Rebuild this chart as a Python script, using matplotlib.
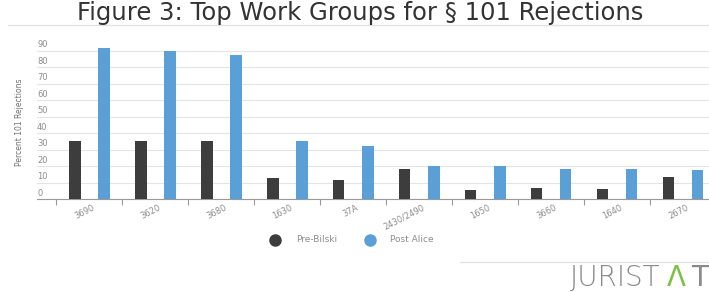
import numpy as np
import matplotlib
matplotlib.use("Agg")
import matplotlib.pyplot as plt
from matplotlib.lines import Line2D

# data
groups = ["3690", "3620", "3680", "1630", "37A", "2430/2490", "1650", "3660", "1640", "2670"]
pre_bilski = [35.3, 35.0, 35.3, 12.7, 11.6, 18.0, 5.5, 6.5, 5.9, 13.2]
post_alice = [91.8, 89.5, 87.5, 35.3, 32.1, 20.0, 20.0, 18.0, 18.0, 17.7]
y_ticks = [0, 10, 20, 30, 40, 50, 60, 70, 80, 90]
series_names = ["Pre-Bilski", "Post Alice"]

dark = "#3d3d3d"
blue = "#5a9fd6"
grey_txt = "#8c8c8c"
grid_col = "#e4e4e4"

W, H = 709, 292
fig = plt.figure(figsize=(W / 100, H / 100), dpi=100)
fig.patch.set_facecolor("white")

# axes placed in pixel terms (right edge runs past the image like the original crop)
left_px, right_px, bottom_px, top_px = 37, 716, 199, 42.25
ax = fig.add_axes([left_px / W, 1 - bottom_px / H,
                   (right_px - left_px) / W, (bottom_px - top_px) / H])

x = np.arange(len(groups))
bw = 0.18
ax.bar(x - 0.22, pre_bilski, bw, color=dark, zorder=3)
ax.bar(x + 0.22, post_alice, bw, color=blue, zorder=3)

ax.set_xlim(-0.79, 9.5)
ax.set_ylim(0, 95)

for s in ["top", "right", "left"]:
    ax.spines[s].set_visible(False)
ax.spines["bottom"].set_color("#9a9a9a")
ax.spines["bottom"].set_linewidth(0.8)

# gridlines + labels sitting just above each line
ax.set_yticks(y_ticks)
ax.set_yticklabels([])
ax.tick_params(axis="y", length=0)
ax.grid(axis="y", color=grid_col, linewidth=0.8, zorder=0)
for v in y_ticks:
    ax.annotate(str(v), xy=(0, v), xycoords=ax.get_yaxis_transform(),
                xytext=(0, 1), textcoords="offset points",
                ha="left", va="bottom", fontsize=6, color=grey_txt)

# tick marks on category boundaries, labels at centers
ax.set_xticks(np.arange(len(groups) + 1) - 0.5)
ax.set_xticklabels([])
ax.tick_params(axis="x", length=4, width=0.8, color="#9a9a9a", direction="out")
for i, g in enumerate(groups):
    ax.annotate(g, xy=(i, 0), xycoords=ax.get_xaxis_transform(),
                xytext=(5, -3), textcoords="offset points",
                ha="right", va="top", rotation=27, fontsize=6, color=grey_txt)

fig.text(20 / W, 1 - 122 / H, "Percent 101 Rejections", rotation=90,
         ha="center", va="center", fontsize=5.5, color="#707070",
         family=["Liberation Sans Narrow", "DejaVu Sans"])

# title and separator rule
fig.text(360 / W, 1 - 13 / H, "Figure 3: Top Work Groups for § 101 Rejections",
         ha="center", va="center", fontsize=17.5, color="#333333")
fig.add_artist(Line2D([8 / W, 1], [1 - 25 / H, 1 - 25 / H], color="#e2e2e2", lw=1))

# legend, laid out by hand
ly = 1 - 240 / H
for px, tx, col, name in [(275, 296, dark, series_names[0]), (370, 390, blue, series_names[1])]:
    fig.add_artist(Line2D([px / W], [ly], marker="o", ls="", color=col, markersize=8))
    fig.text(tx / W, ly, name, ha="left", va="center", fontsize=6.5, color=grey_txt)

# logo
fig.add_artist(Line2D([460 / W, 1], [1 - 262 / H, 1 - 262 / H], color="#e2e2e2", lw=1))
fig.text(660 / W, 1 - 278 / H, "JURIST", ha="right", va="center",
         fontsize=20, color="#8a8a8a", fontweight="light")
fig.text(676 / W, 1 - 278 / H, "Λ", ha="center", va="center",
         fontsize=20, color="#7ac143")
fig.text(691 / W, 1 - 278 / H, "T", ha="left", va="center",
         fontsize=20, color="#8a8a8a")

fig.savefig("out.png", dpi=100, facecolor="white")
